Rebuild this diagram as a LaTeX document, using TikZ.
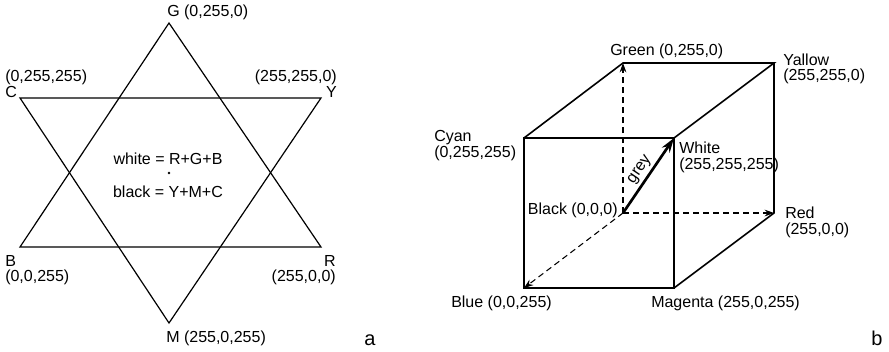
\documentclass[tikz,border=0pt]{standalone}
\usepackage{fontspec}
\setmainfont{Liberation Sans}
\usetikzlibrary{arrows.meta}
\begin{document}
\begin{tikzpicture}[x=0.75pt,y=-0.75pt,
  lbl/.style={inner sep=0pt,font=\fontsize{12}{14}\selectfont},
  starline/.style={line width=0.9pt,line join=miter},
  edge/.style={line width=1.2pt},
  dashedarrow/.style={line width=0.8pt,dash pattern=on 4.5pt off 3pt,-{Stealth[length=7pt,width=5pt]}},
  greyarrow/.style={line width=2pt,-{Stealth[length=11pt,width=7pt]}}]
\useasboundingbox (0,0) rectangle (889,351);
% ---- star (a) ----
\coordinate (G) at (169,23);
\coordinate (B) at (20,247);
\coordinate (R) at (321,247);
\coordinate (M) at (169,323);
\coordinate (C) at (20,98);
\coordinate (Y) at (321,98);
\draw[starline] (G) -- (B) -- (R) -- cycle;
\draw[starline] (M) -- (C) -- (Y) -- cycle;
\node[lbl,anchor=base west] (lG) at (167,16.5) {G (0,255,0)};
\node[lbl,anchor=base west] (lC1) at (5,81) {(0,255,255)};
\node[lbl,anchor=base west] (lC2) at (5,97) {C};
\node[lbl,anchor=base east] (lY1) at (337,81) {(255,255,0)};
\node[lbl,anchor=base east] (lY2) at (337,97) {Y};
\node[lbl,anchor=base west] (lB1) at (5,266) {B};
\node[lbl,anchor=base west] (lB2) at (5,281) {(0,0,255)};
\node[lbl,anchor=base east] (lR1) at (336,266) {R};
\node[lbl,anchor=base east] (lR2) at (336,281) {(255,0,0)};
\node[lbl,anchor=base west] (lM) at (166,342) {M (255,0,255)};
\node[lbl,anchor=base] (lw) at (168,164) {white = R+G+B};
\node[lbl,anchor=base] (lk) at (168,197) {black = Y+M+C};
\fill (169,173) circle[radius=1.3];
\node[lbl,anchor=base,font=\fontsize{15}{17}\selectfont] (la) at (370,345) {a};
% ---- cube (b) ----
\coordinate (Cy) at (524,138);
\coordinate (Wh) at (674,138);
\coordinate (Bl) at (524,288);
\coordinate (Ma) at (674,288);
\coordinate (Gr) at (623,63);
\coordinate (Ye) at (774,63);
\coordinate (Bk) at (623,213);
\coordinate (Re) at (774,213);
\draw[edge] (Cy) -- (Wh) -- (Ma) -- (Bl) -- cycle;
\draw[edge] (Cy) -- (Gr) -- (Ye) -- (Wh);
\draw[edge] (Ye) -- (Re) -- (Ma);
\draw[dashedarrow] (Bk) -- (Gr);
\draw[dashedarrow] (Bk) -- (Re);
\draw[dashedarrow] (Bk) -- (Bl);
\draw[greyarrow] (Bk) -- node[lbl,sloped,above=2pt,pos=0.5] (lgrey) {grey} (Wh);
\node[lbl,anchor=base west] (lCy1) at (434,141.5) {Cyan};
\node[lbl,anchor=base west] (lCy2) at (434,157) {(0,255,255)};
\node[lbl,anchor=base west] (lGr) at (610,55.5) {Green (0,255,0)};
\node[lbl,anchor=base west] (lYe1) at (783,65) {Yallow};
\node[lbl,anchor=base west] (lYe2) at (783,80.5) {(255,255,0)};
\node[lbl,anchor=base west] (lWh1) at (679,153.5) {White};
\node[lbl,anchor=base west] (lWh2) at (679,169) {(255,255,255)};
\node[lbl,anchor=base east] (lBk) at (618,214) {Black (0,0,0)};
\node[lbl,anchor=base west] (lRe1) at (785,218.5) {Red};
\node[lbl,anchor=base west] (lRe2) at (785,234) {(255,0,0)};
\node[lbl,anchor=base west] (lBl) at (451,307) {Blue (0,0,255)};
\node[lbl,anchor=base west] (lMa) at (651,307) {Magenta (255,0,255)};
\node[lbl,anchor=base,font=\fontsize{15}{17}\selectfont] (lb) at (877,345) {b};
\end{tikzpicture}
\end{document}
